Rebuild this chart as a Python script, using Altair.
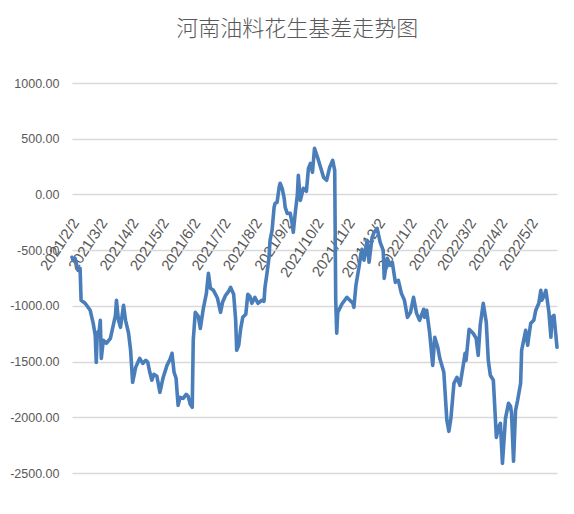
import altair as alt
import pandas as pd

title_text = "河南油料花生基差走势图"
start_date = "2021-02-02"

day_offsets = [
    -3, -2, 0, 3, 5, 6, 10, 15, 18, 20, 21, 22, 24, 25, 26, 28, 31, 35, 40, 41,
    43, 45, 48, 50, 53, 55, 57, 60, 64, 67, 70, 72, 74, 76, 78, 81, 84, 87, 91, 94,
    96, 98, 100, 102, 104, 107, 110, 112, 114, 116, 117, 119, 122, 124, 127, 130, 132, 134, 137, 141,
    144, 146, 149, 152, 154, 157, 159, 160, 162, 164, 166, 169, 171, 173, 175, 178, 181, 185, 187, 188,
    190, 192, 193, 195, 197, 198, 200, 202, 203, 205, 207, 208, 210, 213, 215, 216, 218, 220, 221, 223,
    226, 229, 231, 233, 235, 237, 240, 243, 246, 249, 252, 255, 257, 258, 259, 260, 264, 269, 272, 275,
    276, 278, 281, 283, 284, 286, 289, 291, 294, 296, 299, 302, 305, 306, 309, 312, 314, 317, 320, 323,
    326, 329, 332, 335, 338, 341, 345, 346, 348, 351, 354, 356, 359, 361, 365, 368, 370, 372, 375, 378,
    381, 385, 386, 387, 390, 394, 397, 399, 401, 404, 407, 409, 411, 414, 417, 419, 421, 423, 426, 429,
    431, 432, 434, 436, 438, 441, 442, 444, 446, 448, 449, 451, 454, 456, 459, 461, 462, 464, 466, 469,
    471, 472, 474, 477,
]

basis_values = [
    -564, -591, -573, -681, -663, -950, -977, -1040, -1157, -1264, -1507, -1246, -1220, -1130, -1471, -1309, -1336, -1291, -1085, -950,
    -1130, -1193, -995, -1130, -1246, -1399, -1686, -1552, -1471, -1516, -1489, -1507, -1596, -1668, -1614, -1632, -1776, -1650, -1534, -1480,
    -1426, -1596, -1650, -1893, -1821, -1830, -1794, -1812, -1884, -1911, -1309, -1058, -1094, -1202, -1022, -888, -708, -843, -861, -932,
    -1058, -968, -905, -870, -834, -896, -1130, -1399, -1354, -1202, -1103, -1076, -896, -914, -977, -923, -977, -950, -959, -834,
    -708, -564, -412, -322, -116, -80, -71, 64, 100, 55, -35, -116, -170, -170, -268, -340, -161, -8, 171, -53,
    55, 28, 234, 279, 198, 414, 333, 243, 153, 127, 243, 306, 216, -950, -1246, -1058, -986, -923, -950, -977,
    -1013, -816, -654, -529, -493, -591, -412, -609, -385, -340, -304, -430, -502, -753, -573, -636, -609, -789, -771, -888,
    -950, -1103, -1058, -923, -1067, -1130, -1031, -1103, -1040, -1246, -1534, -1282, -1372, -1471, -1596, -2027, -2126, -2009, -1695, -1641,
    -1713, -1489, -1426, -1489, -1211, -1246, -1291, -1444, -1175, -977, -1148, -1489, -1623, -1668, -2180, -2090, -2054, -2413, -2009, -1875,
    -1902, -1964, -2395, -1937, -1848, -1695, -1399, -1309, -1220, -1354, -1282, -1157, -1130, -1040, -977, -861, -950, -914, -861, -1058,
    -1282, -1103, -1085, -1372,
]

y_ticks = [-2500, -2000, -1500, -1000, -500, 0, 500, 1000]
x_tick_labels = [
    "2021/2/2", "2021/3/2", "2021/4/2", "2021/5/2", "2021/6/2", "2021/7/2", "2021/8/2", "2021/9/2",
    "2021/10/2", "2021/11/2", "2021/12/2", "2022/1/2", "2022/2/2", "2022/3/2", "2022/4/2", "2022/5/2",
]

dates = pd.Timestamp(start_date) + pd.to_timedelta(day_offsets, unit="D")
df = pd.DataFrame({"date": dates, "value": basis_values})

tick_values = []
for s in x_tick_labels:
    yy, mm, dd = (int(p) for p in s.split("/"))
    tick_values.append(alt.DateTime(year=yy, month=mm, date=dd))

W, H = 485, 390
ymin, ymax = min(y_ticks), max(y_ticks)
zero_offset = -H * (0 - ymin) / (ymax - ymin)

label_font = "Liberation Sans, Arial, sans-serif"
gray = "#595959"

chart = alt.Chart(df).mark_line(
    color="#4a7ebb", strokeWidth=3.6, strokeJoin="round", strokeCap="round"
).encode(
    x=alt.X(
        "date:T",
        title=None,
        scale=alt.Scale(nice=False),
        axis=alt.Axis(
            values=tick_values,
            format="%Y/%-m/%-d",
            labelAngle=303,
            labelAlign="right",
            labelBaseline="middle",
            labelPadding=25,
            labelFlush=False,
            labelOverlap=False,
            offset=zero_offset,
            ticks=False,
            tickSize=0,
            domain=False,
            grid=False,
            labelFont=label_font,
            labelFontSize=15,
            labelColor=gray,
        ),
    ),
    y=alt.Y(
        "value:Q",
        title=None,
        scale=alt.Scale(domain=[ymin, ymax], nice=False, zero=False),
        axis=alt.Axis(
            values=y_ticks,
            labelExpr="(datum.value < 0 ? '-' : '') + format(abs(datum.value), '.2f')",
            grid=True,
            gridColor="#d9d9d9",
            gridWidth=1.5,
            domain=False,
            ticks=False,
            tickSize=0,
            labelPadding=13,
            labelFont=label_font,
            labelFontSize=12.5,
            labelColor=gray,
        ),
    ),
).properties(
    width=W,
    height=H,
    title=alt.TitleParams(
        text=title_text,
        font="Noto Sans CJK SC, sans-serif",
        fontSize=22,
        fontWeight=300,
        color=gray,
        anchor="middle",
        frame="bounds",
        baseline="middle",
        offset=26,
        dx=13,
    ),
    autosize=alt.AutoSizeParams(type="none"),
    padding={"left": 64, "top": 75, "right": 9, "bottom": 33},
).configure_view(stroke=None)

chart.save("out.html", embed_options={"renderer": "svg", "actions": False})
